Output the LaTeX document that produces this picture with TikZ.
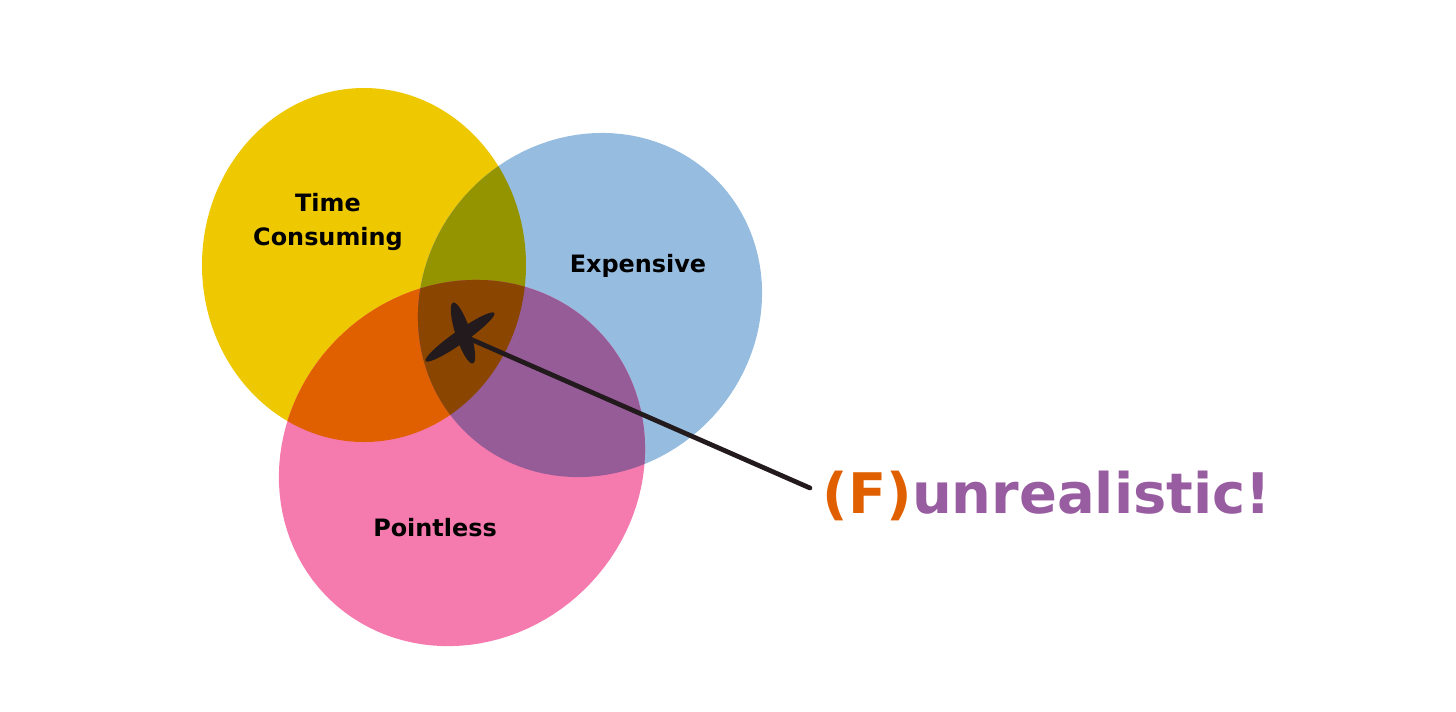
\documentclass[tikz,border=0pt]{standalone}
\usepackage{fontspec}
\setmainfont{DejaVu Sans}
\definecolor{cyel}{HTML}{EEC800}
\definecolor{cblue}{HTML}{96BCE0}
\definecolor{cpink}{HTML}{F57AAE}
\definecolor{colive}{HTML}{949400}
\definecolor{corange}{HTML}{E06000}
\definecolor{cpurple}{HTML}{965C98}
\definecolor{cbrown}{HTML}{8A4600}
\definecolor{ink}{HTML}{221A1C}
\definecolor{cfpurple}{HTML}{985CA0}
\begin{document}
\begin{tikzpicture}[x=0.01cm,y=-0.01cm,
  vlabel/.style={font=\bfseries\fontsize{6.8}{9.6}\selectfont, text=black, inner sep=0pt},
  bigtext/.style={font=\bfseries\fontsize{15.9}{19}\selectfont, text=cfpurple, inner sep=0pt},
  xstroke/.style={fill=ink}]
\path[use as bounding box] (0,0) rectangle (1456,711);
\def\pathY{(364,265) ellipse [x radius=162, y radius=177]}
\def\pathB{plot[domain=0:360, samples=120, variable=\t] ({590+178*cos(\t)*0.7071-166*sin(\t)*0.7071}, {305-178*cos(\t)*0.7071-166*sin(\t)*0.7071}) -- cycle}
\def\pathP{plot[domain=0:360, samples=120, variable=\t] ({462+190*cos(\t)*0.7071-176*sin(\t)*0.7071}, {463-190*cos(\t)*0.7071-176*sin(\t)*0.7071}) -- cycle}
% base shapes
\fill[cyel] \pathY;
\fill[cblue] \pathB;
\fill[cpink] \pathP;
% overlaps
\begin{scope}
  \clip \pathY;
  \fill[colive] \pathB;
  \fill[corange] \pathP;
\end{scope}
\begin{scope}
  \clip \pathB;
  \fill[cpurple] \pathP;
\end{scope}
\begin{scope}
  \clip \pathY;
  \clip \pathB;
  \fill[cbrown] \pathP;
\end{scope}
% labels
\node[vlabel, align=center] (tc) at (328,222) {Time\\Consuming};
\node[vlabel, anchor=base] (ex) at (638,272) {Expensive};
\node[vlabel, anchor=base] (pt) at (435,536) {Pointless};
\node[bigtext, anchor=base] (fun) at (1047,513) {\textcolor{corange}{(F)}unrealistic!};
% X mark and pointer
\coordinate (xc) at (468,338);
\coordinate (lend) at (810,488);
\draw[ink, line width=1.35pt, line cap=round] (xc) -- (lend);
\fill[xstroke, shift={(460,337)}, rotate=35] (0,0) ellipse [x radius=42, y radius=6.5];
\fill[xstroke, shift={(463,333)}, rotate=-72] (0,0) ellipse [x radius=32, y radius=7.5];
\end{tikzpicture}
\end{document}
